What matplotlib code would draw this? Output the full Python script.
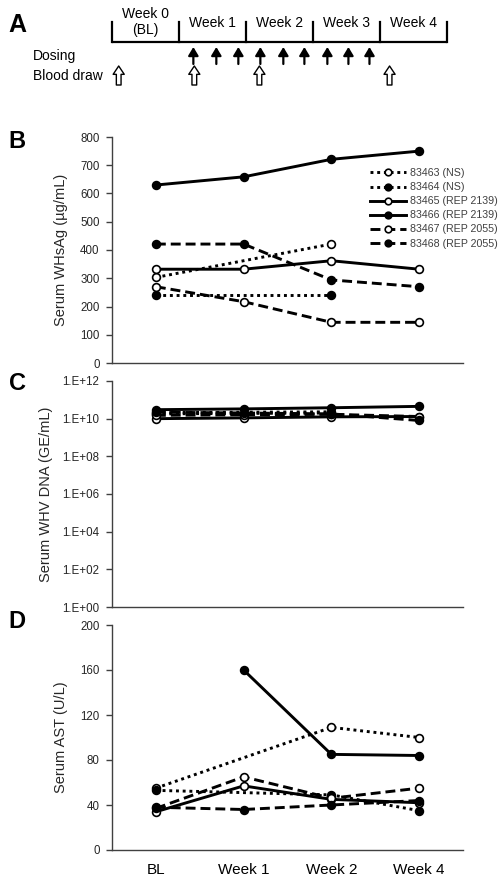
import numpy as np
import matplotlib
matplotlib.use("Agg")
import matplotlib.pyplot as plt

plt.rcParams["font.family"] = ["Liberation Sans", "DejaVu Sans"]

# ---- data -------------------------------------------------------------
timepoints = ["BL", "Week 1", "Week 2", "Week 4"]
animals = ["83463 (NS)", "83464 (NS)", "83465 (REP 2139)",
           "83466 (REP 2139)", "83467 (REP 2055)", "83468 (REP 2055)"]
nan = np.nan

# serum WHsAg (ug/mL)
whsag_83463 = [303, nan, 421, nan]
whsag_83464 = [242, nan, 242, nan]
whsag_83465 = [332, 332, 362, 332]
whsag_83466 = [630, 659, 721, 750]
whsag_83467 = [270, 217, 144, 144]
whsag_83468 = [421, 421, 294, 270]

# serum WHV DNA (GE/mL)
dna_83463 = [1.8e10, nan, 2.0e10, nan]
dna_83464 = [2.1e10, nan, 2.3e10, nan]
dna_83465 = [1.0e10, 1.1e10, 1.25e10, 1.3e10]
dna_83466 = [3.0e10, 3.3e10, 3.8e10, 4.5e10]
dna_83467 = [1.5e10, 1.6e10, 1.7e10, 1.3e10]
dna_83468 = [2.2e10, 2.0e10, 1.8e10, 8.0e9]

# serum AST (U/L)
ast_83463 = [55, nan, 109, 100]
ast_83464 = [53, nan, 49, 35]
ast_83465 = [34, 57, 45, 42]
ast_83466 = [nan, 160, 85, 84]
ast_83467 = [37, 65, 46, 55]
ast_83468 = [38, 36, 40, 44]

dna_ticks = [1e0, 1e2, 1e4, 1e6, 1e8, 1e10, 1e12]
dna_tick_labels = ["1.E+00", "1.E+02", "1.E+04", "1.E+06", "1.E+08", "1.E+10", "1.E+12"]

# study schedule (days from start of week 0)
week_bounds = [0, 7, 14, 21, 28, 35]
week_names = ["Week 0\n(BL)", "Week 1", "Week 2", "Week 3", "Week 4"]
dosing_days = [8.5, 10.9, 13.2, 15.5, 17.9, 20.1, 22.5, 24.7, 26.9]
blood_draw_days = [0.7, 8.6, 15.4, 29.0]

# ---- styles -----------------------------------------------------------
DOT = (0, (1.0, 1.3))
DASH = (0, (3.4, 1.7))
styles = [
    (DOT, "white"), (DOT, "black"),
    ("-", "white"), ("-", "black"),
    (DASH, "white"), (DASH, "black"),
]
AX_COL = "#404040"
TXT_COL = "#262626"

W, H = 501, 883
fig = plt.figure(figsize=(W / 100, H / 100), dpi=100)


def px_axes(left, top, right, bottom):
    return fig.add_axes([left / W, 1 - bottom / H, (right - left) / W, (bottom - top) / H])


def style_axes(ax):
    for s in ("top", "right"):
        ax.spines[s].set_visible(False)
    for s in ("left", "bottom"):
        ax.spines[s].set_color(AX_COL)
        ax.spines[s].set_linewidth(1.0)
    ax.tick_params(axis="y", direction="out", length=4, width=1.0, color=AX_COL,
                   labelsize=8.3, labelcolor=TXT_COL, pad=5)
    ax.tick_params(axis="x", length=0, labelsize=11, labelcolor="black", pad=9)
    ax.set_xlim(-0.5, 3.5)
    ax.set_xticks(range(len(timepoints)))


def draw_series(ax, series, label=True):
    x = np.arange(len(timepoints))
    for name, vals, (ls, fc) in zip(animals, series, styles):
        v = np.array(vals, dtype=float)
        m = ~np.isnan(v)
        ax.plot(x[m], v[m], linestyle=ls, color="black", lw=2.1,
                marker="o", ms=5.6, mfc=fc, mec="black", mew=1.2,
                label=name if label else None, dash_capstyle="butt")


# ---- panel A: schedule -------------------------------------------------
axA = px_axes(0, 0, W, 110)
px_per_day = (447 - 112) / 35.0
axA.set_xlim(-112 / px_per_day, (W - 112) / px_per_day)
axA.set_ylim(110, 0)
axA.axis("off")
axA.plot([week_bounds[0], week_bounds[-1]], [42, 42], color="black", lw=1.6,
         solid_capstyle="butt")
for b in week_bounds:
    axA.plot([b, b], [22, 42], color="black", lw=1.6)
for i, name in enumerate(week_names):
    xc = (week_bounds[i] + week_bounds[i + 1]) / 2
    axA.text(xc, 22 if "\n" in name else 23, name, ha="center", va="center",
             fontsize=10, linespacing=1.25)
axA.text(-8.25, 56, "Dosing", ha="left", va="center", fontsize=10)
axA.text(-8.25, 76, "Blood draw", ha="left", va="center", fontsize=10)
for d in dosing_days:
    axA.annotate("", xy=(d, 47), xytext=(d, 64),
                 arrowprops=dict(arrowstyle="-|>,head_width=0.3,head_length=0.5",
                                 color="black", lw=1.6, shrinkA=0, shrinkB=0))
for d in blood_draw_days:
    axA.annotate("", xy=(d, 66), xytext=(d, 85),
                 arrowprops=dict(arrowstyle="simple,head_width=0.8,head_length=0.6,tail_width=0.34",
                                 fc="white", ec="black", lw=1.0, shrinkA=0, shrinkB=0))
fig.text(17 / W, 1 - 25 / H, "A", fontsize=18, fontweight="bold", ha="center", va="center")

# ---- panel B: WHsAg ----------------------------------------------------
axB = px_axes(112, 137, 463, 363)
style_axes(axB)
draw_series(axB, [whsag_83463, whsag_83464, whsag_83465,
                  whsag_83466, whsag_83467, whsag_83468])
axB.set_ylim(0, 800)
axB.set_yticks(range(0, 801, 100))
axB.set_xticklabels([])
axB.set_ylabel("Serum WHsAg (\u00b5g/mL)", fontsize=10.5, color=TXT_COL)
axB.yaxis.set_label_coords(-0.125, 0.5)
leg = axB.legend(loc="upper left", bbox_to_anchor=(0.735, 0.862), frameon=False,
                 fontsize=7.7, handlelength=3.4, handletextpad=0.3, labelspacing=0.38,
                 borderpad=0, borderaxespad=0, markerscale=0.85)
for t in leg.get_texts():
    t.set_color("#404040")
fig.text(17 / W, 1 - 141 / H, "B", fontsize=17, fontweight="bold", ha="center", va="center")

# ---- panel C: WHV DNA --------------------------------------------------
axC = px_axes(112, 381, 463, 607)
style_axes(axC)
draw_series(axC, [dna_83463, dna_83464, dna_83465,
                  dna_83466, dna_83467, dna_83468], label=False)
axC.set_yscale("log")
axC.set_ylim(1e0, 1e12)
axC.set_yticks(dna_ticks)
axC.set_yticklabels(dna_tick_labels)
axC.minorticks_off()
axC.set_xticklabels([])
axC.set_ylabel("Serum WHV DNA (GE/mL)", fontsize=10.5, color=TXT_COL)
axC.yaxis.set_label_coords(-0.168, 0.5)
fig.text(17 / W, 1 - 383 / H, "C", fontsize=17, fontweight="bold", ha="center", va="center")

# ---- panel D: AST ------------------------------------------------------
axD = px_axes(112, 625, 463, 850)
style_axes(axD)
draw_series(axD, [ast_83463, ast_83464, ast_83465,
                  ast_83466, ast_83467, ast_83468], label=False)
axD.set_ylim(0, 200)
axD.set_yticks(range(0, 201, 40))
axD.set_xticklabels(timepoints)
axD.set_ylabel("Serum AST (U/L)", fontsize=10.5, color=TXT_COL)
axD.yaxis.set_label_coords(-0.125, 0.5)
fig.text(17 / W, 1 - 622 / H, "D", fontsize=17, fontweight="bold", ha="center", va="center")

fig.savefig("out.png", dpi=100)
